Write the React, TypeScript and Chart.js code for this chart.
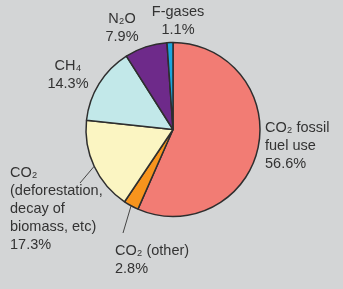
import React, { useEffect, useRef } from "react";
import { Chart, registerables } from "chart.js";

Chart.register(...registerables);

const categories = [
  "CO₂ fossil fuel use",
  "CO₂ (other)",
  "CO₂ (deforestation, decay of biomass, etc)",
  "CH₄",
  "N₂O",
  "F-gases",
];
const shares = [56.6, 2.8, 17.3, 14.3, 7.9, 1.1];
const sliceColors = ["#f27c74", "#f7941d", "#fbf5c2", "#c2e8e9", "#6e2a8a", "#1ba6df"];
const labelLines = [
  ["CO₂ fossil", "fuel use", "56.6%"],
  ["CO₂ (other)", "2.8%"],
  ["CO₂", "(deforestation,", "decay of", "biomass, etc)", "17.3%"],
  ["CH₄", "14.3%"],
  ["N₂O", "7.9%"],
  ["F-gases", "1.1%"],
];

// label layout (relative to pie centre)
const labelLayout: any[] = [
  { dx: 92, dy: -1.5, align: "left" },
  { dx: -58, dy: 121.5, align: "left", leader: [-50, 103.5] },
  { dx: -163, dy: 43.5, align: "left", leader: [-93, 53.5] },
  { dx: -105, dy: -63.5, align: "center" },
  { dx: -51, dy: -110.5, align: "center" },
  { dx: 5, dy: -117.5, align: "center" },
];

const labelPlugin = {
  id: "pieLabels",
  afterDraw(chart: any) {
    const ctx = chart.ctx;
    const meta = chart.getDatasetMeta(0);
    const arc0 = meta.data[0];
    const cx = arc0.x;
    const cy = arc0.y;
    ctx.save();
    ctx.font = "14.5px 'Liberation Sans', Arial, sans-serif";
    ctx.fillStyle = "#333333";
    ctx.textBaseline = "middle";
    meta.data.forEach((arc: any, i: number) => {
      const lay = labelLayout[i];
      if (lay.leader) {
        const mid = (arc.startAngle + arc.endAngle) / 2;
        const r = arc.outerRadius;
        ctx.beginPath();
        ctx.strokeStyle = "#444";
        ctx.lineWidth = 1;
        ctx.moveTo(cx + Math.cos(mid) * r, cy + Math.sin(mid) * r);
        ctx.lineTo(cx + lay.leader[0], cy + lay.leader[1]);
        ctx.stroke();
      }
      ctx.textAlign = lay.align;
      labelLines[i].forEach((line, j) => {
        ctx.fillText(line, cx + lay.dx, cy + lay.dy + j * 18);
      });
    });
    ctx.restore();
  },
};

export default function App() {
  const ref = useRef<HTMLCanvasElement>(null);
  useEffect(() => {
    document.body.style.margin = "0";
    const chart = new Chart(ref.current!, {
      type: "pie",
      data: {
        labels: categories,
        datasets: [
          {
            data: shares,
            backgroundColor: sliceColors,
            borderColor: "#2e2e2e",
            borderWidth: 1.5,
          },
        ],
      },
      options: {
        animation: false,
        responsive: false,
        radius: 87,
        layout: { padding: { left: 3, right: 0, top: 0, bottom: 30 } },
        plugins: { legend: { display: false }, tooltip: { enabled: false } },
      } as any,
      plugins: [labelPlugin],
    });
    return () => chart.destroy();
  }, []);
  return (
    <div style={{ width: 343, height: 289, background: "#d3d5d6" }}>
      <canvas ref={ref} width={343} height={289} style={{ display: "block" }} />
    </div>
  );
}
